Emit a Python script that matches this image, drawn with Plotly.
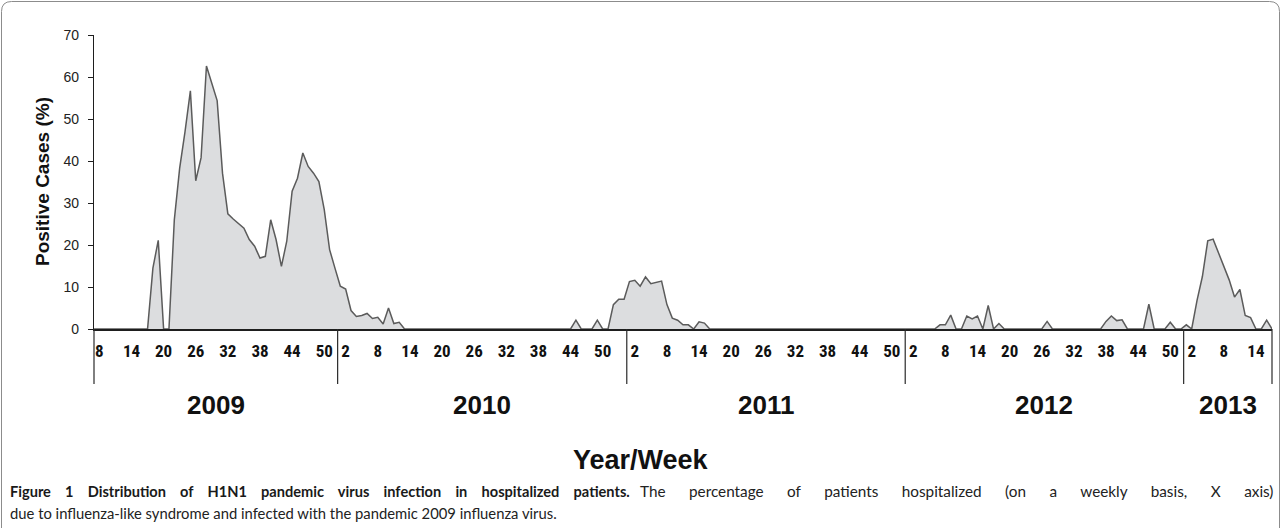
import plotly.graph_objects as go

# ---------------- data (weekly % positive) ----------------
years = ["2009", "2010", "2011", "2012", "2013"]
first_week = [7, 1, 1, 1, 1]
label_weeks = [
    [8, 14, 20, 26, 32, 38, 44, 50],
    [2, 8, 14, 20, 26, 32, 38, 44, 50],
    [2, 8, 14, 20, 26, 32, 38, 44, 50],
    [2, 8, 14, 20, 26, 32, 38, 44, 50],
    [2, 8, 14],
]

pct_2009 = [0, 0, 0, 0, 0, 0, 0, 0, 0, 0, 0,
            14.5, 21.1, 0, 0, 26.0, 38.3, 47.0, 56.7, 35.3, 40.8, 62.6, 58.5,
            54.4, 37.1, 27.4, 26.2, 25.1, 24.0, 21.3, 19.7, 16.9, 17.3, 26.0,
            21.3, 14.9, 20.9, 32.8, 35.9, 41.9, 38.7, 37.1, 35.1, 28.4, 18.9, 14.5]
pct_2010 = [10.2, 9.5, 4.4, 3.0, 3.2, 3.7, 2.5, 2.8, 1.2, 5.0, 1.3, 1.6,
            0, 0, 0, 0, 0, 0, 0, 0, 0, 0, 0, 0, 0, 0, 0, 0,
            0, 0, 0, 0, 0, 0, 0, 0, 0, 0, 0, 0, 0, 0, 0, 0,
            2.1, 0, 0, 0, 2.1, 0, 0, 5.8, 7.1, 7.1]
pct_2011 = [11.3, 11.6, 10.2, 12.4, 10.8, 11.1, 11.4, 5.8, 2.6, 2.1, 1.0, 1.0,
            0, 1.7, 1.4,
            0, 0, 0, 0, 0, 0, 0, 0, 0, 0, 0, 0, 0, 0, 0, 0, 0, 0, 0,
            0, 0, 0, 0, 0, 0, 0, 0, 0, 0, 0, 0, 0, 0, 0, 0, 0, 0]
pct_2012 = [0, 0, 0, 0, 0, 0, 1.0, 1.0, 3.3, 0, 0, 3.1, 2.4, 3.1, 0, 5.6,
            0, 1.3, 0, 0, 0, 0, 0, 0, 0, 0, 1.8, 0, 0, 0, 0, 0, 0, 0, 0, 0,
            0, 1.8, 3.1, 2.0, 2.2, 0, 0, 0, 0, 5.9, 0, 0, 0, 1.6, 0, 0]
pct_2013 = [1.0, 0, 6.8, 12.5, 21.0, 21.4, 18.3, 14.8, 11.7, 7.6, 9.4, 3.2,
            2.7, 0, 0, 2.1, 0]

series = [pct_2009, pct_2010, pct_2011, pct_2012, pct_2013]

# ---------------- build category positions ----------------
xs, ys, starts = [], [], []
i = 0
for vals in series:
    starts.append(i)
    for v in vals:
        xs.append(i)
        ys.append(v)
        i += 1
n_points = i
x_lo, x_hi = 0, n_points - 1

tickvals, ticktext = [], []
for k, wk in enumerate(label_weeks):
    for w in wk:
        tickvals.append(starts[k] + (w - first_week[k]))
        ticktext.append(str(w))

bounds = [x_lo] + [s - 0.5 for s in starts[1:]] + [x_hi]

# ---------------- geometry helpers (pixels -> paper) ----------------
W, H = 1281, 528
ML, MR, MT, MB = 94, 9, 35, 199
PW, PH = W - ML - MR, H - MT - MB


def px(xp):
    return (xp - ML) / PW


def py(yp):
    return (H - MB - yp) / PH


fig = go.Figure()
fig.add_trace(go.Scatter(
    x=xs, y=ys, mode="lines", fill="tozeroy",
    fillcolor="#DCDDDF", line=dict(color="#5B5B5B", width=1.5),
    hoverinfo="x+y", showlegend=False,
))

shapes = []
for b in bounds:
    xf = (b - x_lo) / (x_hi - x_lo)
    shapes.append(dict(type="line", xref="paper", yref="paper",
                       x0=xf, x1=xf, y0=0, y1=py(384),
                       line=dict(color="#2A2A2A", width=1.2)))

# rounded frame
r = 10
L, R, T, B = px(1.5), px(1279.5), py(1.5), py(540)
rx, ry = r / PW, r / PH
path = (f"M {L},{B} L {L},{T - ry} Q {L},{T} {L + rx},{T} "
        f"L {R - rx},{T} Q {R},{T} {R},{T - ry} L {R},{B}")
shapes.append(dict(type="path", xref="paper", yref="paper", path=path,
                   line=dict(color="#8C8C8C", width=1)))

annotations = []
for k, yr in enumerate(years):
    c = (bounds[k] + bounds[k + 1]) / 2
    annotations.append(dict(x=c, xref="x", y=py(405), yref="paper",
                            text=yr, showarrow=False, xanchor="center", yanchor="middle",
                            font=dict(family="Liberation Sans, Arial", size=26,
                                      color="#111111", weight="bold")))

annotations.append(dict(x=px(641), y=py(460), xref="paper", yref="paper",
                        text="Year/Week", showarrow=False, xanchor="center", yanchor="middle",
                        font=dict(family="Liberation Sans, Arial", size=27,
                                  color="#111111", weight="bold")))

annotations.append(dict(x=px(42), y=0.5, xref="paper", yref="paper",
                        text="Positive Cases (%)", textangle=-90, showarrow=False,
                        xanchor="center", yanchor="middle",
                        font=dict(family="Liberation Sans, Arial", size=19,
                                  color="#111111", weight="bold")))

cap_font = dict(family="Lato, Open Sans, sans-serif", size=14.8, color="#222222")
bold_words = "Figure 1 Distribution of H1N1 pandemic virus infection in hospitalized patients.".split(" ")
annotations.append(dict(x=px(8), y=py(491), xref="paper", yref="paper",
                        text="<b>" + ("\u00a0" * 4).join(bold_words) + "</b>",
                        showarrow=False, xanchor="left", yanchor="middle",
                        font=dict(cap_font, size=14.6, color="#1a1a1a")))
words = "The percentage of patients hospitalized (on a weekly basis, X axis)".split(" ")
annotations.append(dict(x=px(1275), y=py(491), xref="paper", yref="paper",
                        text=("\u00a0" * 6).join(words),
                        showarrow=False, xanchor="right", yanchor="middle",
                        font=dict(cap_font, size=15.3)))
annotations.append(dict(x=px(8), y=py(513), xref="paper", yref="paper",
                        text="due to influenza-like syndrome and infected with the pandemic 2009 influenza virus.",
                        showarrow=False, xanchor="left", yanchor="middle",
                        font=cap_font))

fig.update_layout(
    width=W, height=H,
    margin=dict(l=ML, r=MR, t=MT, b=MB, pad=0),
    paper_bgcolor="white", plot_bgcolor="white",
    shapes=shapes, annotations=annotations,
    xaxis=dict(range=[x_lo, x_hi], showgrid=False, zeroline=False,
               showline=True, linecolor="#1E1E1E", linewidth=1.5,
               tickmode="array", tickvals=tickvals, ticktext=ticktext,
               ticks="", ticklabelstandoff=6,
               tickfont=dict(family="Liberation Sans Narrow, Arial Narrow, Roboto Condensed, sans-serif",
                             size=17, color="#111111", weight="bold")),
    yaxis=dict(range=[0, 70], showgrid=False, zeroline=False,
               showline=True, linecolor="#1E1E1E", linewidth=1.2,
               tickmode="array", tickvals=[0, 10, 20, 30, 40, 50, 60, 70],
               ticks="outside", ticklen=5, tickcolor="#1E1E1E",
               ticklabelstandoff=6,
               tickfont=dict(family="Liberation Sans, Arial", size=14, color="#222222")),
)

fig.write_html(
    "out.html",
    config={"displayModeBar": False},
    post_script="document.body.style.margin='0';document.body.style.overflow='hidden';"
                "document.documentElement.style.overflow='hidden';",
)
